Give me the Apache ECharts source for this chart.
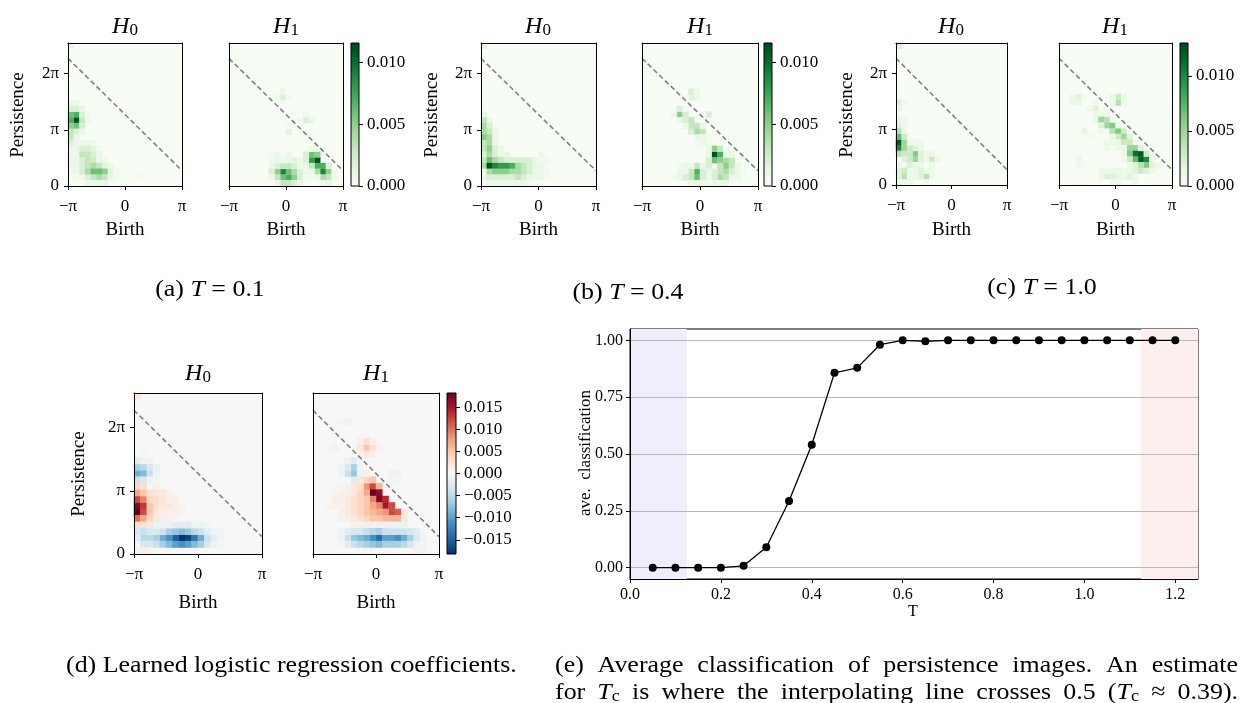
<!DOCTYPE html>
<html>
<head>
<meta charset="utf-8">
<script src="https://cdn.jsdelivr.net/npm/echarts@6/dist/echarts.min.js"></script>
<style>
  html, body { margin: 0; padding: 0; background: #fff; }
  #chart { width: 1250px; height: 703px; }
</style>
</head>
<body>
<div id="chart"></div>
<script>
// persistence image grid: 20 birth bins over [-pi, pi], 25 persistence bins over [0, 8]
const N_BIRTH = 20
const N_PERS = 25
const BIRTH_TICKS = [-Math.PI, 0, Math.PI]
const PERS_TICKS = [0, Math.PI, 2 * Math.PI]
const PERS_MAX = 8
// dashed reference line: persistence = 4 - birth
const DIAG = [[-Math.PI, 4 + Math.PI], [Math.PI, 4 - Math.PI]]

// non-zero cells [birthBin, persBin, value * 1e3]
const A_H0 = [
  [0, 24, 1],
  [1, 11, 11], [0, 11, 7], [1, 12, 7], [0, 12, 6], [1, 10, 6], [0, 10, 5], [2, 11, 3], [2, 12, 2],
  [1, 13, 2], [0, 13, 2], [2, 10, 2], [1, 9, 2], [0, 9, 3], [0, 8, 3], [0, 7, 2], [1, 8, 1],
  [2, 9, 1], [2, 13, 1], [3, 11, 1], [3, 12, 0.5], [1, 14, 1], [0, 14, 1],
  [0, 6, 1], [0, 5, 1], [0, 4, 1], [0, 3, 1], [1, 7, 1], [2, 7, 1], [3, 7, 1], [4, 7, 0.5],
  [1, 6, 1], [2, 6, 2], [3, 6, 2], [4, 6, 1.5], [5, 6, 0.5],
  [1, 5, 1], [2, 5, 3], [3, 5, 3], [4, 5, 2], [5, 5, 1],
  [1, 4, 1], [2, 4, 2], [3, 4, 3], [4, 4, 2.5], [5, 4, 1], [6, 4, 1],
  [1, 3, 1], [2, 3, 2], [3, 3, 3], [4, 3, 4], [5, 3, 3], [6, 3, 1.5], [7, 3, 1],
  [0, 2, 0.5], [1, 2, 1], [2, 2, 2], [3, 2, 4], [4, 2, 6], [5, 2, 6], [6, 2, 5], [7, 2, 1.5], [8, 2, 0.5],
  [1, 1, 0.5], [2, 1, 1], [3, 1, 2], [4, 1, 3], [5, 1, 4], [6, 1, 3], [7, 1, 1], [8, 1, 0.5],
  [3, 0, 1], [4, 0, 1], [5, 0, 1], [6, 0, 1], [12, 1, 0.5]
]
const A_H1 = [
  [9, 15, 2], [9, 16, 1], [8, 15, 0.5], [9, 14, 0.5], [10, 15, 0.5],
  [13, 11, 2], [14, 11, 1], [13, 12, 0.5], [12, 11, 0.5], [10, 9, 1.5], [10, 10, 0.5],
  [9, 2, 9], [10, 1, 7], [9, 1, 6], [10, 2, 6], [8, 2, 5], [11, 1, 5], [11, 2, 4], [8, 1, 3],
  [10, 0, 3], [9, 0, 3], [11, 0, 2], [8, 3, 2], [9, 3, 3], [10, 3, 3], [11, 3, 2], [12, 2, 2],
  [12, 3, 1], [8, 4, 1], [9, 4, 1], [7, 3, 1], [7, 2, 2], [12, 1, 2], [7, 1, 1], [8, 0, 1], [12, 0, 1],
  [8, 5, 1], [9, 5, 0.5], [10, 5, 1], [11, 4, 1.5], [12, 4, 1], [7, 4, 0.5], [7, 5, 0.5], [10, 4, 1],
  [15, 4, 11], [14, 4, 8], [14, 5, 6], [15, 5, 5], [16, 2, 9], [16, 3, 7], [15, 3, 7], [17, 2, 5],
  [17, 1, 3], [16, 1, 4], [15, 2, 4], [14, 3, 3], [13, 4, 2], [13, 5, 2], [17, 3, 2], [15, 1, 1],
  [13, 3, 1], [13, 2, 1], [14, 2, 1], [13, 1, 0.5], [14, 1, 0.5], [18, 1, 1], [18, 2, 1],
  [17, 0, 1], [16, 0, 1], [14, 6, 1], [15, 6, 1]
]
const B_H0 = [
  [0, 24, 1.5], [1, 11, 1], [0, 12, 1],
  [0, 11, 3], [0, 10, 4], [1, 10, 2], [0, 9, 4], [1, 9, 3], [0, 8, 5], [1, 8, 4], [0, 7, 3],
  [1, 7, 4], [2, 7, 1], [0, 6, 3], [1, 6, 5], [2, 6, 2], [0, 5, 2], [1, 5, 4], [2, 5, 2],
  [2, 8, 1], [2, 9, 1], [3, 5, 1], [3, 6, 1], [4, 5, 1],
  [0, 4, 3], [1, 4, 6], [2, 4, 4], [3, 4, 3], [4, 4, 2], [5, 4, 2], [6, 4, 2], [7, 4, 2],
  [8, 4, 2], [9, 4, 1], [10, 4, 0.5], [10, 5, 1], [11, 4, 0.5],
  [0, 3, 4], [1, 3, 11], [2, 3, 9], [3, 3, 8], [4, 3, 8], [5, 3, 7], [6, 3, 4], [7, 3, 3],
  [8, 3, 2], [9, 3, 1], [10, 3, 1],
  [0, 2, 1], [1, 2, 4], [2, 2, 5], [3, 2, 5], [4, 2, 5], [5, 2, 4], [6, 2, 4], [7, 2, 3], [8, 2, 2],
  [9, 2, 1], [10, 2, 1], [11, 2, 0.5],
  [0, 1, 1], [1, 1, 2], [2, 1, 2], [3, 1, 2], [4, 1, 2], [5, 1, 2], [6, 1, 3], [7, 1, 2], [8, 1, 1],
  [9, 1, 1], [10, 1, 1], [11, 1, 0.5],
  [1, 0, 1], [2, 0, 1], [3, 0, 1], [4, 0, 1], [5, 0, 1], [6, 0, 1], [7, 0, 1], [8, 0, 0.5]
]
const B_H1 = [
  [8, 16, 2], [8, 15, 1.5], [9, 15, 1], [9, 16, 1], [7, 15, 0.5],
  [6, 12, 5], [6, 13, 2], [7, 12, 2], [11, 12, 2], [10, 12, 0.5], [5, 12, 1], [6, 11, 1],
  [7, 13, 0.5], [11, 11, 0.5],
  [7, 11, 2], [8, 11, 3], [8, 10, 3], [9, 10, 3], [9, 9, 4], [10, 9, 3], [8, 9, 2], [7, 10, 1], [10, 10, 1],
  [9, 8, 1], [10, 8, 1], [11, 8, 0.5], [11, 7, 0.5],
  [12, 5, 11], [13, 5, 7], [12, 4, 6], [13, 4, 5], [12, 6, 5], [13, 6, 3], [14, 4, 4], [15, 4, 3],
  [14, 3, 5], [15, 3, 3], [11, 4, 2], [11, 3, 2], [13, 3, 3], [14, 2, 4], [13, 2, 3], [15, 2, 2],
  [13, 1, 4], [14, 1, 3], [12, 1, 2], [12, 2, 2], [16, 2, 1], [16, 3, 1],
  [14, 5, 1], [15, 5, 1], [14, 6, 0.5], [11, 2, 1], [11, 1, 1],
  [9, 2, 7], [9, 1, 6], [8, 2, 3], [8, 1, 3], [10, 1, 2], [10, 2, 2], [9, 3, 3], [8, 3, 1],
  [7, 2, 1], [7, 1, 2], [6, 1, 1], [10, 3, 1], [6, 2, 1], [5, 1, 0.5], [7, 3, 1], [6, 3, 0.5],
  [11, 5, 1], [11, 6, 1], [10, 7, 1], [9, 7, 0.5], [12, 0, 1], [13, 0, 1], [9, 0, 1],
  [8, 0, 1], [10, 0, 1], [11, 0, 0.5], [14, 0, 1], [15, 1, 1], [16, 1, 1], [17, 2, 0.5]
]
const C_H0 = [
  [0, 24, 2], [0, 14, 2], [0, 13, 1], [1, 14, 0.5],
  [0, 7, 12], [0, 6, 10], [1, 7, 5], [1, 6, 5], [0, 8, 7], [0, 9, 4], [0, 10, 2], [1, 8, 3],
  [1, 9, 1], [0, 5, 4], [2, 6, 3], [1, 5, 3], [2, 7, 1], [1, 10, 1], [1, 11, 0.5], [0, 11, 1],
  [3, 5, 6], [3, 4, 5], [2, 5, 3], [2, 4, 3], [4, 5, 2], [4, 4, 2], [3, 6, 2], [2, 3, 2],
  [1, 4, 2], [4, 6, 1], [3, 7, 1], [4, 7, 0.5], [5, 5, 1], [5, 4, 1], [4, 3, 1], [3, 3, 1],
  [6, 4, 3], [6, 5, 1], [7, 4, 1], [6, 3, 1],
  [1, 1, 4], [1, 2, 3], [0, 2, 2], [0, 1, 2], [1, 0, 1], [0, 3, 1], [0, 0, 1], [2, 0, 1],
  [5, 1, 4], [4, 1, 2], [5, 2, 1], [4, 2, 2], [3, 2, 1], [2, 2, 1], [2, 1, 1], [3, 1, 1],
  [6, 1, 1], [6, 2, 1], [5, 0, 1]
]
const C_H1 = [
  [3, 15, 2], [2, 15, 1], [2, 14, 1], [3, 14, 1], [4, 15, 0.5],
  [10, 14, 4], [10, 15, 3], [9, 15, 1], [9, 14, 1], [11, 14, 1], [11, 15, 1],
  [6, 13, 2], [5, 13, 1], [6, 12, 1], [6, 14, 0.5], [7, 12, 1], [6, 11, 1],
  [7, 11, 5], [8, 11, 4], [8, 10, 5], [9, 10, 6], [9, 9, 4], [10, 9, 6], [11, 9, 3], [11, 8, 5],
  [10, 8, 3], [12, 8, 2], [7, 10, 2], [8, 12, 1], [9, 11, 1], [10, 10, 1], [11, 10, 0.5],
  [7, 9, 1], [9, 8, 1], [10, 7, 1], [9, 7, 1], [12, 9, 0.5], [13, 7, 1],
  [11, 7, 3], [12, 7, 3], [12, 6, 5], [13, 6, 5], [11, 6, 1], [10, 6, 1],
  [13, 5, 11], [14, 5, 12], [14, 4, 12], [15, 4, 10], [15, 3, 6], [13, 4, 7], [12, 5, 6],
  [14, 6, 2], [12, 4, 3], [15, 5, 3], [16, 3, 2], [14, 3, 4], [13, 3, 2], [16, 4, 1], [16, 5, 1],
  [17, 3, 1], [11, 4, 1], [11, 5, 1], [12, 3, 1], [12, 2, 1],
  [8, 1, 2], [9, 1, 2], [10, 1, 1.5], [12, 1, 2], [13, 1, 1], [14, 2, 3], [15, 2, 2], [9, 2, 1],
  [13, 2, 2], [11, 1, 1], [7, 1, 1], [8, 2, 1], [16, 2, 1], [10, 2, 1], [11, 2, 1], [7, 2, 1],
  [9, 0, 1], [10, 0, 1], [13, 0, 1],
  [4, 9, 1.5], [3, 4, 1], [8, 7, 1], [8, 6, 1], [3, 3, 0.5], [4, 3, 0.5], [5, 8, 0.5]
]
// logistic regression coefficients [birthBin, persBin, coef * 1e3]
const D_H0 = [
  [0, 24, 2],
  [0, 12, -9], [1, 12, -8], [0, 13, -6], [1, 13, -5], [2, 12, -4], [0, 11, -4], [1, 11, -3],
  [2, 13, -3], [0, 14, -2], [1, 14, -1], [3, 12, -1], [2, 11, -1], [2, 14, -1], [3, 13, -1],
  [3, 11, -0.5], [1, 15, -0.5],
  [0, 7, 17], [0, 6, 18], [1, 6, 12], [1, 7, 13], [0, 8, 12], [1, 8, 9], [0, 5, 10], [1, 5, 7],
  [0, 9, 7], [1, 9, 5], [0, 10, 4], [1, 10, 3], [2, 5, 4], [2, 6, 5], [2, 7, 5], [2, 8, 4],
  [2, 9, 3], [0, 4, 3], [1, 4, 3], [2, 4, 2],
  [3, 9, 2], [3, 8, 3], [3, 7, 3], [3, 6, 2], [3, 5, 2], [4, 9, 2], [4, 8, 2], [4, 7, 2],
  [4, 6, 1], [5, 8, 1], [5, 7, 2], [5, 6, 1], [6, 7, 1], [6, 6, 1], [7, 6, 0.5], [3, 10, 1],
  [5, 9, 1], [6, 8, 1], [7, 7, 0.5], [5, 5, 1], [4, 5, 1], [6, 5, 0.5],
  [7, 2, -18], [8, 2, -17], [6, 2, -15], [9, 2, -13], [5, 2, -11], [4, 2, -9], [10, 2, -9],
  [3, 2, -6], [2, 2, -5], [1, 2, -5], [11, 2, -4], [0, 2, -2], [12, 2, -2], [13, 2, -1],
  [1, 1, -3], [2, 1, -3], [3, 1, -4], [4, 1, -6], [5, 1, -8], [6, 1, -10], [7, 1, -11],
  [8, 1, -10], [9, 1, -8], [10, 1, -6], [11, 1, -3], [12, 1, -1], [13, 1, -0.5],
  [0, 3, -3], [1, 3, -4], [2, 3, -3], [3, 3, -3], [4, 3, -4], [5, 3, -6], [6, 3, -7], [7, 3, -8],
  [8, 3, -7], [9, 3, -5], [10, 3, -4], [11, 3, -2], [12, 3, -1], [13, 3, -0.5],
  [3, 4, -1], [4, 4, -1], [5, 4, -1], [6, 4, -2], [7, 4, -2], [8, 4, -2], [9, 4, -1], [10, 4, -1],
  [11, 4, -0.5],
  [0, 0, 1], [1, 0, 1], [2, 0, 0.5]
]
const D_H1 = [
  [5, 20, -1], [4, 20, -0.5], [3, 16, 1], [2, 16, 0.5],
  [8, 16, 5], [8, 17, 3], [9, 16, 3], [7, 16, 2], [8, 15, 2], [9, 17, 1], [7, 17, 1],
  [10, 16, 1], [9, 15, 1], [7, 15, 1],
  [6, 12, -7], [6, 13, -6], [5, 12, -4], [5, 13, -3], [6, 14, -2], [5, 14, -1], [6, 11, -2],
  [7, 12, -1], [7, 13, -1], [4, 13, -1], [4, 12, -1], [7, 14, -0.5],
  [12, 12, -1], [13, 12, -1], [12, 11, -0.5], [13, 11, -0.5],
  [8, 10, 8], [9, 10, 12], [8, 11, 4], [9, 11, 5], [10, 10, 6], [9, 9, 18], [10, 9, 16],
  [10, 8, 17], [11, 8, 14], [11, 7, 15], [12, 7, 12], [12, 6, 12], [13, 6, 11], [11, 6, 8],
  [10, 7, 9], [9, 8, 9], [8, 9, 7], [8, 8, 5], [7, 9, 4], [7, 8, 4], [7, 10, 3], [8, 12, 1],
  [7, 11, 2], [6, 10, 2], [5, 10, 1],
  [13, 5, 6], [12, 5, 6], [11, 5, 6], [10, 5, 5], [9, 5, 5], [8, 5, 4], [7, 5, 3], [6, 5, 2],
  [10, 6, 7], [9, 6, 6], [8, 6, 5], [7, 6, 4], [6, 6, 3], [9, 7, 7], [8, 7, 5], [7, 7, 4],
  [6, 7, 3], [6, 8, 3], [5, 7, 2], [5, 6, 2], [5, 8, 2], [4, 7, 1], [4, 6, 1], [6, 9, 2],
  [5, 9, 1], [14, 5, 2], [14, 6, 2], [3, 8, 1], [4, 8, 1], [3, 7, 1], [2, 7, 0.5], [4, 9, 1],
  [3, 9, 0.5], [4, 10, 0.5], [4, 5, 1], [5, 5, 1],
  [6, 4, 1], [7, 4, 1], [8, 4, 1], [9, 4, 1], [10, 4, 1], [11, 4, 1],
  [10, 2, -14], [9, 2, -11], [11, 2, -10], [12, 2, -10], [13, 2, -11], [14, 2, -9], [8, 2, -9],
  [7, 2, -8], [6, 2, -7], [5, 2, -4], [15, 2, -6], [16, 2, -3], [4, 2, -1], [17, 2, -1],
  [6, 1, -4], [7, 1, -5], [8, 1, -6], [9, 1, -7], [10, 1, -8], [11, 1, -6], [12, 1, -6],
  [13, 1, -6], [14, 1, -5], [15, 1, -3], [5, 1, -2], [16, 1, -1], [4, 1, -0.5], [17, 1, -0.5],
  [5, 3, -2], [6, 3, -3], [7, 3, -3], [8, 3, -4], [9, 3, -5], [10, 3, -6], [11, 3, -4],
  [12, 3, -4], [13, 3, -4], [14, 3, -4], [15, 3, -3], [16, 3, -2], [4, 3, -1], [17, 3, -0.5],
  [12, 4, -1], [13, 4, -1], [14, 4, -1], [16, 0, 1], [17, 0, 1]
]

// colour scales
const GREEN_MAX_AB = 0.0116
const GREEN_MAX_C = 0.013
const COEF_LIM = 0.0182
const GREEN_TICKS = [0, 0.005, 0.01]
const COEF_TICKS = [-0.015, -0.01, -0.005, 0, 0.005, 0.01, 0.015]

// average classification vs temperature
const T_VALUES = [0.05, 0.10, 0.15, 0.20, 0.25, 0.30, 0.35, 0.40, 0.45, 0.50, 0.55, 0.60,
  0.65, 0.70, 0.75, 0.80, 0.85, 0.90, 0.95, 1.00, 1.05, 1.10, 1.15, 1.20]
const AVE_CLASS = [0, 0, 0, 0, 0.008, 0.09, 0.293, 0.541, 0.857, 0.879, 0.981, 1.0,
  0.996, 1.0, 1.0, 1.0, 1.0, 1.0, 1.0, 1.0, 1.0, 1.0, 1.0, 1.0]
const T_TICKS_Y = [0, 0.25, 0.5, 0.75, 1.0]
const LOW_T_BAND = [0, 0.125]
const HIGH_T_BAND = [1.125, 1.25]

const SERIF = '"Liberation Serif", "DejaVu Serif", serif'
const GREENS = ['#f7fcf5', '#e5f5e0', '#c7e9c0', '#a1d99b', '#74c476', '#41ab5d', '#238b45', '#006d2c', '#00441b']
const RDBU_R = ['#053061', '#2166ac', '#4393c3', '#92c5de', '#d1e5f0', '#f7f7f7', '#fddbc7', '#f4a582', '#d6604d', '#b2182b', '#67001f']

const heatPanels = [
  { cells: A_H0, box: [68, 43, 114, 143], scale: 'a', first: true },
  { cells: A_H1, box: [229, 43, 114, 143], scale: 'a' },
  { cells: B_H0, box: [481, 43, 115, 143], scale: 'b', first: true },
  { cells: B_H1, box: [642, 43, 116, 143], scale: 'b' },
  { cells: C_H0, box: [896, 43, 111, 142], scale: 'c', first: true },
  { cells: C_H1, box: [1059, 43, 113, 142], scale: 'c' },
  { cells: D_H0, box: [134, 393, 128, 161], scale: 'd', first: true },
  { cells: D_H1, box: [313, 393, 126, 161], scale: 'd' }
]
const scales = {
  a: { min: 0, max: GREEN_MAX_AB, colors: GREENS, bg: GREENS[0], ticks: GREEN_TICKS, bar: [351, 43, 8, 143] },
  b: { min: 0, max: GREEN_MAX_AB, colors: GREENS, bg: GREENS[0], ticks: GREEN_TICKS, bar: [764, 43, 8, 143] },
  c: { min: 0, max: GREEN_MAX_C, colors: GREENS, bg: GREENS[0], ticks: GREEN_TICKS, bar: [1180, 43, 8, 143] },
  d: { min: -COEF_LIM, max: COEF_LIM, colors: RDBU_R, bg: RDBU_R[5], ticks: COEF_TICKS, bar: [447, 393, 9, 161] }
}

const birthCats = Array.from({ length: N_BIRTH }, (_, i) => i)
const persCats = Array.from({ length: N_PERS }, (_, i) => i)
const fmtPi = v => {
  if (Math.abs(v) < 1e-6) return '0'
  const k = Math.round(v / Math.PI)
  if (k === 1) return 'π'
  if (k === -1) return '\u2212π'
  return k + 'π'
}
const fmtNum = (v, d) => (v < -1e-9 ? '\u2212' : '') + Math.abs(v).toFixed(d)
const black = { color: '#000', width: 1 }
const tickFont = { fontFamily: SERIF, fontSize: 17, color: '#000' }

const grids = []
const xAxes = []
const yAxes = []
const series = []
const visualMaps = []
const seriesByScale = {}

heatPanels.forEach(p => {
  const g = grids.length
  grids.push({
    left: p.box[0], top: p.box[1], width: p.box[2], height: p.box[3],
    show: true, backgroundColor: scales[p.scale].bg, borderWidth: 0, containLabel: false, outerBoundsMode: 'none'
  })
  const xc = xAxes.length
  xAxes.push({
    type: 'category', gridIndex: g, position: 'top', data: birthCats, boundaryGap: true, z: 10,
    axisLine: { show: true, onZero: false, lineStyle: black }, axisTick: { show: false },
    axisLabel: { show: false }, splitLine: { show: false }
  })
  const xv = xAxes.length
  xAxes.push({
    type: 'value', gridIndex: g, position: 'bottom', min: -Math.PI, max: Math.PI, z: 10,
    axisLine: { show: true, onZero: false, lineStyle: black },
    axisTick: { show: true, length: 4, customValues: BIRTH_TICKS, lineStyle: black },
    axisLabel: { show: true, customValues: BIRTH_TICKS, formatter: fmtPi, margin: 12, ...tickFont },
    splitLine: { show: false }
  })
  const yc = yAxes.length
  yAxes.push({
    type: 'category', gridIndex: g, position: 'right', data: persCats, boundaryGap: true, z: 10,
    axisLine: { show: true, onZero: false, lineStyle: black }, axisTick: { show: false },
    axisLabel: { show: false }, splitLine: { show: false }
  })
  const yv = yAxes.length
  yAxes.push({
    type: 'value', gridIndex: g, position: 'left', min: 0, max: PERS_MAX, z: 10,
    axisLine: { show: true, onZero: false, lineStyle: black },
    axisTick: { show: !!p.first, length: 4, customValues: PERS_TICKS, lineStyle: black },
    axisLabel: { show: !!p.first, customValues: PERS_TICKS, formatter: fmtPi, margin: 9, ...tickFont },
    splitLine: { show: false }
  })
  seriesByScale[p.scale] = seriesByScale[p.scale] || []
  seriesByScale[p.scale].push(series.length)
  series.push({
    type: 'heatmap', xAxisIndex: xc, yAxisIndex: yc, silent: true, progressive: 0,
    data: p.cells.map(([c, r, v]) => [c, r, v / 1000]),
    itemStyle: { borderWidth: 0 }, emphasis: { disabled: true }
  })
  series.push({
    type: 'line', xAxisIndex: xv, yAxisIndex: yv, data: DIAG, symbol: 'none', silent: true, z: 5,
    lineStyle: { color: '#808080', width: 1.6, type: [5, 3] }
  })
})

Object.keys(scales).forEach(k => {
  const s = scales[k]
  visualMaps.push({
    type: 'continuous', show: false, min: s.min, max: s.max, dimension: 2,
    seriesIndex: seriesByScale[k], inRange: { color: s.colors }
  })
  const g = grids.length
  grids.push({
    left: s.bar[0], top: s.bar[1], width: s.bar[2], height: s.bar[3],
    show: true, borderColor: '#000', borderWidth: 1, containLabel: false, outerBoundsMode: 'none',
    backgroundColor: {
      type: 'linear', x: 0, y: 1, x2: 0, y2: 0,
      colorStops: s.colors.map((c, i) => ({ offset: i / (s.colors.length - 1), color: c }))
    }
  })
  xAxes.push({ type: 'value', gridIndex: g, show: false, min: 0, max: 1 })
  yAxes.push({
    type: 'value', gridIndex: g, position: 'right', min: s.min, max: s.max,
    axisLine: { show: false, onZero: false },
    axisTick: { show: true, length: 4, customValues: s.ticks, lineStyle: black },
    axisLabel: { show: true, customValues: s.ticks, formatter: v => fmtNum(v, 3), margin: 8, ...tickFont },
    splitLine: { show: false }
  })
})

// panel (e)
const ge = grids.length
grids.push({
  left: 630, top: 329, width: 568, height: 250, show: true, backgroundColor: '#fff',
  borderColor: '#000', borderWidth: 1, containLabel: false, outerBoundsMode: 'none'
})
const xe = xAxes.length
xAxes.push({
  type: 'value', gridIndex: ge, min: 0, max: 1.25, interval: 0.2, z: 10,
  axisLine: { show: true, onZero: false, lineStyle: black },
  axisTick: { show: true, length: 4, lineStyle: black },
  axisLabel: { showMaxLabel: false, formatter: v => v.toFixed(1), margin: 8, fontFamily: SERIF, fontSize: 16, color: '#000' },
  splitLine: { show: false }
})
const ye = yAxes.length
yAxes.push({
  type: 'value', gridIndex: ge, min: -0.05, max: 1.05, z: 10,
  axisLine: { show: true, onZero: false, lineStyle: black },
  axisTick: { show: true, length: 4, customValues: T_TICKS_Y, lineStyle: black },
  axisLabel: { customValues: T_TICKS_Y, formatter: v => v.toFixed(2), margin: 7, fontFamily: SERIF, fontSize: 16, color: '#000' },
  splitLine: { show: false }
})
series.push({
  type: 'line', xAxisIndex: xe, yAxisIndex: ye, silent: true, z: 5,
  data: T_VALUES.map((t, i) => [t, AVE_CLASS[i]]),
  symbol: 'circle', symbolSize: 8, itemStyle: { color: '#000' },
  lineStyle: { color: '#000', width: 1.3 },
  markArea: {
    silent: true, z: 1,
    data: [
      [{ xAxis: LOW_T_BAND[0], itemStyle: { color: '#eeeefc' } }, { xAxis: LOW_T_BAND[1] }],
      [{ xAxis: HIGH_T_BAND[0], itemStyle: { color: '#fdefee' } }, { xAxis: HIGH_T_BAND[1] }]
    ]
  },
  markLine: {
    silent: true, z: 2, symbol: ['none', 'none'], label: { show: false },
    lineStyle: { color: '#b8b8b8', width: 1.2, type: 'solid' },
    data: T_TICKS_Y.map(v => ({ yAxis: v }))
  }
})

// text
const text = (x, y, str, size, extra = {}) => ({
  type: 'text', x, y, silent: true, rotation: extra.rotation || 0,
  scaleX: extra.scaleX || 1,
  style: {
    text: str, fill: '#000', fontSize: size, fontFamily: SERIF,
    align: extra.align || 'center', textAlign: extra.align || 'center',
    verticalAlign: 'middle', textVerticalAlign: 'middle', rich: extra.rich
  }
})
const mathRich = (size, subSize, drop) => ({
  n: { fontSize: size, fontFamily: SERIF, verticalAlign: 'bottom', lineHeight: size + 4 },
  i: { fontSize: size, fontFamily: SERIF, fontStyle: 'italic', verticalAlign: 'bottom', lineHeight: size + 4 },
  s: { fontSize: subSize, fontFamily: SERIF, verticalAlign: 'bottom', lineHeight: size + 4 - 2 * drop }
})
const hTitle = (x, y, k) => text(x, y, '{i|H}{s|' + k + '}', 24, { rich: mathRich(24, 17, 6) })

// captions: Liberation Serif widened a little to follow the Computer Modern widths
const CAP = 24
const CAP_SX = 1.08
const capRich = mathRich(CAP, 17, 5)
const caption = (x, y, str, align) => text(x, y, str, CAP, { align, rich: capRich, scaleX: CAP_SX })
const measureCtx = document.createElement('canvas').getContext('2d')
const wordWidth = w => {
  let total = 0
  w.replace(/\{(\w)\|([^}]*)\}/g, (_, k, s) => {
    const st = capRich[k]
    measureCtx.font = (st.fontStyle === 'italic' ? 'italic ' : '') + st.fontSize + 'px "Liberation Serif"'
    total += measureCtx.measureText(s).width
    return ''
  })
  return total * CAP_SX
}
// justified caption line: words spread so the line fills [x0, x1]
const justified = (x0, x1, y, words) => {
  const widths = words.map(wordWidth)
  const gap = (x1 - x0 - widths.reduce((a, b) => a + b, 0)) / (words.length - 1)
  let x = x0
  return words.map((w, i) => {
    const el = caption(x, y, w, 'left')
    x += widths[i] + gap
    return el
  })
}
const plain = s => s.split(' ').map(w => '{n|' + w + '}')

const graphics = [
  hTitle(125, 25, 0), hTitle(286, 25, 1),
  hTitle(538, 25, 0), hTitle(700, 25, 1),
  hTitle(951, 25, 0), hTitle(1115, 25, 1),
  hTitle(198, 372, 0), hTitle(376, 372, 1),
  text(18, 115, 'Persistence', 19, { rotation: Math.PI / 2 }),
  text(432, 115, 'Persistence', 19, { rotation: Math.PI / 2 }),
  text(847, 115, 'Persistence', 19, { rotation: Math.PI / 2 }),
  text(79, 474, 'Persistence', 19, { rotation: Math.PI / 2 }),
  text(586, 453, 'ave.  classification', 17, { rotation: Math.PI / 2 }),
  text(913, 612, 'T', 16),
  caption(210, 288, '{n|(a) }{i|T}{n| = 0.1}', 'center'),
  caption(628, 291, '{n|(b) }{i|T}{n| = 0.4}', 'center'),
  caption(1042, 286, '{n|(c) }{i|T}{n| = 1.0}', 'center'),
  caption(66, 664, '{n|(d) Learned logistic regression coefficients.}', 'left'),
  ...justified(555, 1238, 664, plain('(e) Average classification of persistence images. An estimate')),
  ...justified(555, 1238, 691, ['{n|for}', '{i|T}{s|c}', ...plain('is where the interpolating line crosses 0.5'),
    '{n|(}{i|T}{s|c}', '{n|≈}', '{n|0.39).}'])
]
heatPanels.forEach(p => {
  graphics.push(text(p.box[0] + p.box[2] / 2, p.box[1] > 300 ? 603 : 230, 'Birth', 19))
})

const chart = echarts.init(document.getElementById('chart'), null, { renderer: 'canvas' })
chart.setOption({
  animation: false,
  backgroundColor: '#fff',
  grid: grids,
  xAxis: xAxes,
  yAxis: yAxes,
  visualMap: visualMaps,
  series,
  graphic: { elements: graphics }
})
</script>
</body>
</html>
